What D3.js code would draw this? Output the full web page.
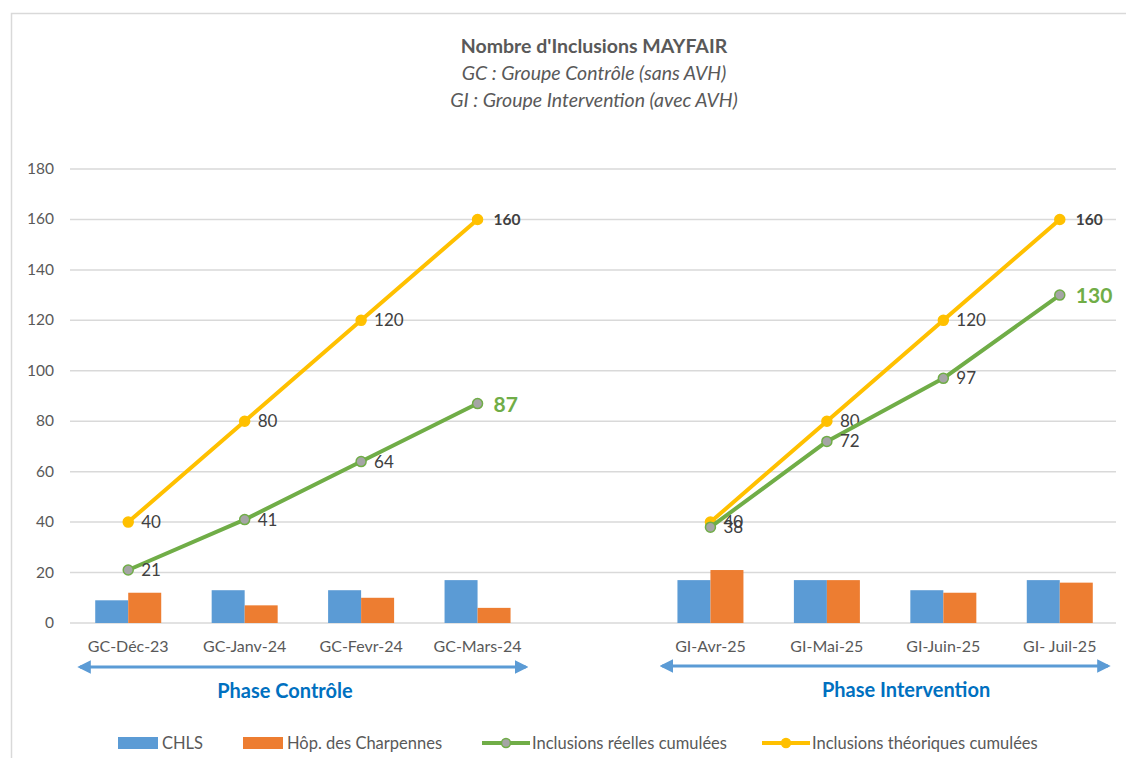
<!DOCTYPE html>
<html>
<head>
<meta charset="utf-8">
<script src="https://cdn.jsdelivr.net/npm/d3@7"></script>
<style>
  body { margin: 0; background: #fff; }
  text { font-family: Lato, "Open Sans", sans-serif; }
</style>
</head>
<body>
<svg id="canvas" width="1126" height="758"></svg>
<script>
// categories (empty slot separates the two phases)
const categories = ["GC-Déc-23", "GC-Janv-24", "GC-Fevr-24", "GC-Mars-24", "",
                    "GI-Avr-25", "GI-Mai-25", "GI-Juin-25", "GI- Juil-25"];
const chls =        [9, 13, 13, 17, null, 17, 17, 13, 17];
const charpennes =  [12, 7, 10, 6, null, 21, 17, 12, 16];
const reelles =     [21, 41, 64, 87, null, 38, 72, 97, 130];
const theoriques =  [40, 80, 120, 160, null, 40, 80, 120, 160];
const yTicks = [0, 20, 40, 60, 80, 100, 120, 140, 160, 180];
const phases = [
    {label: "Phase Contrôle", from: "GC-Déc-23", to: "GC-Mars-24", shift: -18},
    {label: "Phase Intervention", from: "GI-Avr-25", to: "GI- Juil-25", shift: 21}
];

const BLUE = "#5b9bd5", ORANGE = "#ed7d31", GREEN = "#70ad47", YELLOW = "#ffc000";
const GREY_TEXT = "#595959";

const svg = d3.select("#canvas");

// outer chart border
svg.append("rect")
    .attr("x", 11.5).attr("y", 13.5)
    .attr("width", 1125).attr("height", 760)
    .attr("fill", "none").attr("stroke", "#d9d9d9").attr("stroke-width", 1.5);

// title
const title = svg.append("g").attr("text-anchor", "middle").attr("fill", GREY_TEXT);
title.append("text").attr("x", 594).attr("y", 53)
    .attr("font-size", 19.5).attr("font-weight", "bold").text("Nombre d'Inclusions MAYFAIR");
title.append("text").attr("x", 594).attr("y", 80)
    .attr("font-size", 19.5).attr("font-style", "italic").text("GC : Groupe Contrôle (sans AVH)");
title.append("text").attr("x", 594).attr("y", 107)
    .attr("font-size", 19.5).attr("font-style", "italic").text("GI : Groupe Intervention (avec AVH)");

const x = d3.scaleBand().domain(categories).range([70, 1118]);
const y = d3.scaleLinear().domain([0, 180]).range([623, 169]);
const cx = i => x(categories[i]) + x.bandwidth() / 2;

// gridlines
svg.append("g").selectAll("line")
    .data(yTicks)
    .enter().append("line")
    .attr("x1", 70).attr("x2", 1116)
    .attr("y1", d => y(d)).attr("y2", d => y(d))
    .attr("stroke", "#d9d9d9").attr("stroke-width", 1.5);

// y axis labels
svg.append("g").selectAll("text")
    .data(yTicks)
    .enter().append("text")
    .attr("x", 54).attr("y", d => y(d) + 5)
    .attr("text-anchor", "end").attr("font-size", 15.5).attr("fill", GREY_TEXT)
    .text(d => d);

// x axis labels
svg.append("g").selectAll("text")
    .data(categories)
    .enter().append("text")
    .attr("x", d => x(d) + x.bandwidth() / 2).attr("y", 652)
    .attr("text-anchor", "middle").attr("font-size", 16).attr("fill", GREY_TEXT)
    .text(d => d);

// bars
const barW = 33;
const bars = svg.append("g");
[[chls, BLUE, -barW], [charpennes, ORANGE, 0]].forEach(([vals, color, off]) => {
    bars.selectAll(null)
        .data(vals.map((v, i) => ({v, i})).filter(d => d.v !== null))
        .enter().append("rect")
        .attr("x", d => cx(d.i) + off)
        .attr("width", barW)
        .attr("y", d => y(d.v))
        .attr("height", d => y(0) - y(d.v))
        .attr("fill", color);
});

// lines
const line = d3.line()
    .defined(d => d.v !== null)
    .x(d => cx(d.i)).y(d => y(d.v));

function drawSeries(vals, color, markerFill, lastStyle) {
    const pts = vals.map((v, i) => ({v, i}));
    const isLast = d => d.i === 3 || d.i === 8;
    svg.append("path").datum(pts)
        .attr("d", line)
        .attr("fill", "none").attr("stroke", color).attr("stroke-width", 4)
        .attr("stroke-linejoin", "round");
    svg.append("g").selectAll("circle")
        .data(pts.filter(d => d.v !== null))
        .enter().append("circle")
        .attr("cx", d => cx(d.i)).attr("cy", d => y(d.v))
        .attr("r", 5)
        .attr("fill", markerFill).attr("stroke", color).attr("stroke-width", 1.5);
    svg.append("g").selectAll("text")
        .data(pts.filter(d => d.v !== null))
        .enter().append("text")
        .attr("x", d => cx(d.i) + (isLast(d) ? lastStyle.dx : 13))
        .attr("y", d => y(d.v) + (isLast(d) ? lastStyle.dy : 6))
        .attr("font-size", d => isLast(d) ? lastStyle.size : 17)
        .attr("font-weight", d => isLast(d) ? "bold" : "normal")
        .attr("fill", d => isLast(d) ? lastStyle.color : "#404040")
        .text(d => d.v);
}

drawSeries(theoriques, YELLOW, YELLOW, {dx: 16, dy: 6, size: 15.5, color: "#404040"});
drawSeries(reelles, GREEN, "#a5a5a5", {dx: 16, dy: 8, size: 21, color: GREEN});

// phase arrows
svg.append("defs").append("marker")
    .attr("id", "head").attr("viewBox", "0 0 10 10")
    .attr("refX", 8).attr("refY", 5)
    .attr("markerWidth", 4.5).attr("markerHeight", 4.5)
    .attr("orient", "auto-start-reverse")
    .append("path").attr("d", "M0,0 L10,5 L0,10 Z").attr("fill", BLUE);

phases.forEach((p, k) => {
    const x1 = x(p.from) + 10, x2 = x(p.to) + x.bandwidth() - 10;
    const yy = k === 0 ? 667 : 666;
    svg.append("line")
        .attr("x1", x1).attr("x2", x2).attr("y1", yy).attr("y2", yy)
        .attr("stroke", BLUE).attr("stroke-width", 3)
        .attr("marker-start", "url(#head)").attr("marker-end", "url(#head)");
    svg.append("text")
        .attr("x", (x1 + x2) / 2 + p.shift).attr("y", yy + 31)
        .attr("text-anchor", "middle").attr("font-size", 20).attr("font-weight", "bold")
        .attr("fill", "#0070c0").text(p.label);
});

// legend
const legend = svg.append("g").attr("font-size", 16.5).attr("fill", GREY_TEXT);
const legendItems = [
    {label: "CHLS", type: "bar", color: BLUE, x: 118},
    {label: "Hôp. des Charpennes", type: "bar", color: ORANGE, x: 243},
    {label: "Inclusions réelles cumulées", type: "line", color: GREEN, marker: "#a5a5a5", x: 482},
    {label: "Inclusions théoriques cumulées", type: "line", color: YELLOW, marker: YELLOW, x: 762}
];
legendItems.forEach(d => {
    if (d.type === "bar") {
        legend.append("rect").attr("x", d.x).attr("y", 737).attr("width", 40).attr("height", 12)
            .attr("fill", d.color);
    } else {
        legend.append("line").attr("x1", d.x).attr("x2", d.x + 48).attr("y1", 743).attr("y2", 743)
            .attr("stroke", d.color).attr("stroke-width", 4);
        legend.append("circle").attr("cx", d.x + 24).attr("cy", 743).attr("r", 4.5)
            .attr("fill", d.marker).attr("stroke", d.color).attr("stroke-width", 1.5);
    }
    legend.append("text").attr("x", d.x + (d.type === "bar" ? 44 : 50)).attr("y", 749)
        .text(d.label);
});
</script>
</body>
</html>
